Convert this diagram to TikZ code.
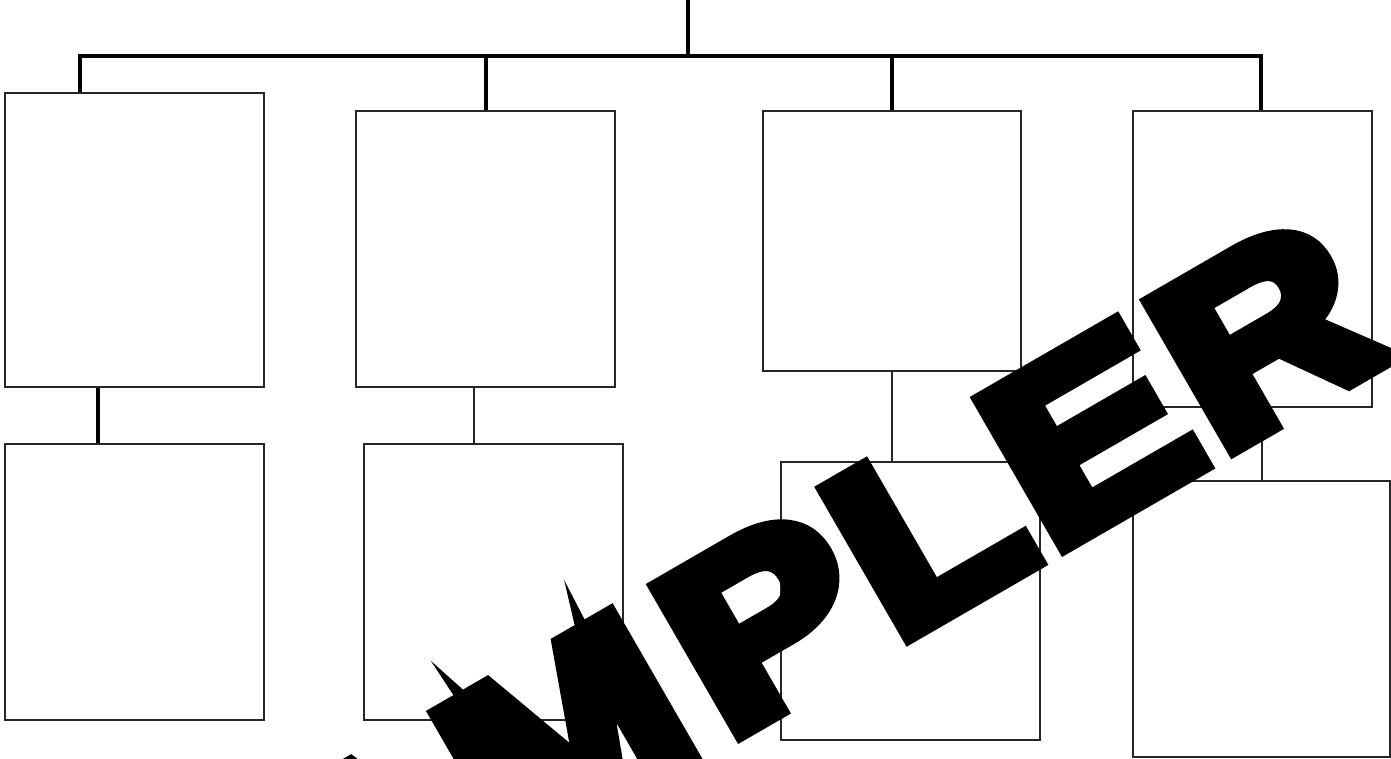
\documentclass[tikz,border=0pt]{standalone}
\usepackage{fontspec}
\newfontface\wmfont[FakeBold=7.5]{Liberation Sans Bold}
\begin{document}
\begin{tikzpicture}[x=1pt,y=-1pt,
  box/.style={draw=black!85, line width=1.4pt, inner sep=0pt, fill=none},
  bar/.style={draw=black, line width=4.5pt},
  thinline/.style={draw=black!85, line width=1.4pt},
  wm/.style={text=black, inner sep=0pt, font=\wmfont\fontsize{242}{242}\selectfont}]
\useasboundingbox (0,0) rectangle (1391,759);
% first row
\node[box, minimum width=259pt, minimum height=294pt] (b1) at (134.5,240) {};
\node[box, minimum width=259pt, minimum height=276pt] (b2) at (485.5,249) {};
\node[box, minimum width=258pt, minimum height=260pt] (b3) at (892,241) {};
\node[box, minimum width=239pt, minimum height=296pt] (b4) at (1252.5,259) {};
% second row
\node[box, minimum width=259pt, minimum height=276pt] (b5) at (134.5,582) {};
\node[box, minimum width=259pt, minimum height=276pt] (b6) at (493.5,582) {};
\node[box, minimum width=259pt, minimum height=278pt] (b7) at (910.5,601) {};
\node[box, minimum width=257pt, minimum height=276pt] (b8) at (1261.5,619) {};
% top connectors
\coordinate (top) at (688,0);
\coordinate (hub) at (688,56);
\coordinate (d1) at (80,56);
\coordinate (d2) at (486,56);
\coordinate (d3) at (892,56);
\coordinate (d4) at (1261,56);
\draw[bar] (top) -- (hub);
\draw[bar] (d1 |- b1.north) -- (d1) -- (d4) -- (d4 |- b4.north);
\draw[bar] (d2) -- (d2 |- b2.north);
\draw[bar] (d3) -- (d3 |- b3.north);
% vertical connectors
\coordinate (e1) at (98,0);
\coordinate (e2) at (474,0);
\coordinate (e4) at (1262,0);
\draw[bar, line width=4pt] (e1 |- b1.south) -- (e1 |- b5.north);
\draw[thinline] (e2 |- b2.south) -- (e2 |- b6.north);
\draw[thinline] (b3.south) -- (b3.south |- b7.north);
\draw[thinline] (e4 |- b4.south) -- (e4 |- b8.north);
% watermark
\begin{scope}
\clip (0,0) rectangle (1391,759);
\node[wm, anchor=base west, rotate=30, xscale=1.15] (mark) at (325,972)
  {A\kern7.6pt M\kern19.2pt P\kern7.7pt L\kern8.2pt E\kern8.6pt R};
\end{scope}
\end{tikzpicture}
\end{document}
